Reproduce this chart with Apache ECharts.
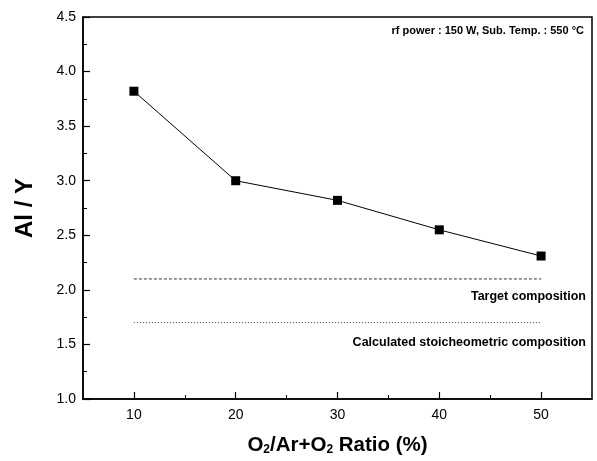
<!DOCTYPE html>
<html><head><meta charset="utf-8">
<script src="https://cdn.jsdelivr.net/npm/echarts@6/dist/echarts.min.js"></script>
<style>html,body{margin:0;padding:0;background:#fff}#c{width:597px;height:461px}</style>
</head><body><div id="c"></div>
<script>
const ratios = [10, 20, 30, 40, 50];
const alY = [3.82, 3.00, 2.82, 2.55, 2.31];
const refX = [10, 50];
const targetComp = 2.10;
const stoichComp = 1.70;
const xMajorTicks = [10, 20, 30, 40, 50];
const xMinorTicks = [15, 25, 35, 45];

const FONT = 'Liberation Sans, Arial, sans-serif';
const chart = echarts.init(document.getElementById('c'));
chart.setOption({
  animation: false,
  backgroundColor: '#fff',
  grid: { left: 83, right: 5, top: 17, bottom: 59, show: true, borderColor: '#000', borderWidth: 1.5, backgroundColor: 'transparent' },
  xAxis: [{
    type: 'value', min: 5, max: 55,
    axisLine: { lineStyle: { color: '#000', width: 1.5 } },
    axisTick: { inside: true, length: 7, customValues: xMajorTicks, lineStyle: { color: '#000', width: 1.2 } },
    axisLabel: { customValues: xMajorTicks, color: '#000', fontSize: 14, fontFamily: FONT, margin: 9 },
    splitLine: { show: false },
    name: '{b|O}{s|2}{b|/Ar+O}{s|2}{b| Ratio (%)}',
    nameLocation: 'middle', nameGap: 35,
    nameTextStyle: { rich: {
      b: { fontSize: 20.5, fontWeight: 'bold', fontFamily: FONT, color: '#000' },
      s: { fontSize: 12, fontWeight: 'bold', fontFamily: FONT, color: '#000', verticalAlign: 'bottom', padding: [10, 0, 0, 0] }
    } }
  }, {
    type: 'value', min: 5, max: 55, position: 'bottom',
    axisLine: { show: false },
    axisTick: { inside: true, length: 4, customValues: xMinorTicks, lineStyle: { color: '#000', width: 1 } },
    axisLabel: { show: false },
    splitLine: { show: false }
  }],
  yAxis: {
    type: 'value', min: 1, max: 4.5, interval: 0.5,
    axisLine: { show: true, lineStyle: { color: '#000', width: 1.5 } },
    axisTick: { show: true, inside: true, length: 7, lineStyle: { color: '#000', width: 1.2 } },
    minorTick: { show: true, splitNumber: 2, length: 4, lineStyle: { color: '#000', width: 1 } },
    axisLabel: { color: '#000', fontSize: 14, fontFamily: FONT, margin: 7, formatter: v => v.toFixed(1) },
    splitLine: { show: false },
    name: 'Al / Y', nameLocation: 'middle', nameGap: 46, nameRotate: 90,
    nameTextStyle: { fontSize: 24, fontWeight: 'bold', fontFamily: FONT, color: '#000' }
  },
  series: [{
    type: 'line', data: ratios.map((x, i) => [x, alY[i]]),
    symbol: 'rect', symbolSize: 9,
    itemStyle: { color: '#000' }, lineStyle: { color: '#000', width: 1 }
  }, {
    type: 'line', data: refX.map(x => [x, targetComp]), symbol: 'none',
    lineStyle: { color: '#333', width: 1, type: [3, 2] }
  }, {
    type: 'line', data: refX.map(x => [x, stoichComp]), symbol: 'none',
    lineStyle: { color: '#444', width: 1, type: [1, 2] }
  }],
  graphic: [
    { type: 'text', right: 13, top: 25, style: { text: 'rf power : 150 W, Sub. Temp. : 550 °C', font: 'bold 11px ' + FONT, fill: '#000' } },
    { type: 'text', right: 11, top: 290, style: { text: 'Target composition', font: 'bold 12.5px ' + FONT, fill: '#000' } },
    { type: 'text', right: 11, top: 336, style: { text: 'Calculated stoicheometric composition', font: 'bold 12.5px ' + FONT, fill: '#000' } }
  ]
});
</script></body></html>
